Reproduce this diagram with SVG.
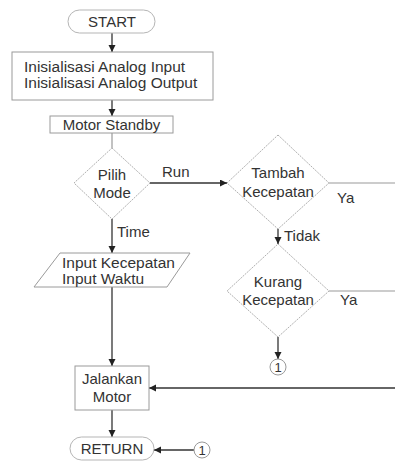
<svg xmlns="http://www.w3.org/2000/svg" width="395" height="461" viewBox="0 0 395 461">
<defs>
<marker id="arr" markerUnits="userSpaceOnUse" markerWidth="8" markerHeight="8" refX="7" refY="3.5" orient="auto">
<path d="M0,0 L7,3.5 L0,7 z" fill="#222"/>
</marker>
<style>
text{font-family:"Liberation Sans",Arial,sans-serif;font-size:15px;fill:#333}
.mid{text-anchor:middle}
.term{fill:#fff;stroke:#b5b5b5;stroke-width:1}
.box{fill:#fff;stroke:#9a9a9a;stroke-width:1}
.dia{fill:#fff;stroke:#b0b0b0;stroke-width:1;stroke-dasharray:2,1}
.con{fill:none;stroke:#333;stroke-width:1.3}
.lite{fill:none;stroke:#999;stroke-width:1.2}
.circ{fill:#fff;stroke:#999;stroke-width:1}
</style>
</defs>
<rect width="395" height="461" fill="#fff"/>
<g id="connectors">
<line class="con" x1="112" y1="33" x2="112" y2="52" marker-end="url(#arr)"/>
<line class="con" x1="112" y1="100" x2="112" y2="116" marker-end="url(#arr)"/>
<line class="lite" x1="112" y1="133" x2="112" y2="148"/>
<line class="con" x1="150" y1="183" x2="227" y2="183" marker-end="url(#arr)"/>
<line class="con" x1="112" y1="219" x2="112" y2="253" marker-end="url(#arr)"/>
<line class="con" x1="112" y1="287" x2="112" y2="366" marker-end="url(#arr)"/>
<line class="con" x1="112" y1="410" x2="112" y2="437" marker-end="url(#arr)"/>
<line class="con" x1="278" y1="229" x2="278" y2="244" marker-end="url(#arr)"/>
<line class="lite" x1="329" y1="183" x2="395" y2="183"/>
<line class="lite" x1="329" y1="291" x2="395" y2="291"/>
<line class="con" x1="278" y1="337" x2="278" y2="359" marker-end="url(#arr)"/>
<line class="con" x1="395" y1="388" x2="149" y2="388" marker-end="url(#arr)"/>
<line class="con" x1="194" y1="450" x2="154" y2="450" marker-end="url(#arr)"/>
<text x="162" y="177">Run</text>
<text x="117" y="237">Time</text>
<text x="284" y="241">Tidak</text>
<text x="337" y="203">Ya</text>
<text x="340" y="305">Ya</text>
</g>
<g id="start">
<rect class="term" x="68" y="10" width="87" height="23" rx="11.5"/>
<text class="mid" x="112" y="27">START</text>
</g>
<g id="init">
<rect class="box" x="12" y="52" width="201" height="48"/>
<text x="24" y="72" style="font-size:15.5px">Inisialisasi Analog Input</text>
<text x="24" y="88" style="font-size:15.5px">Inisialisasi Analog Output</text>
</g>
<g id="standby">
<rect class="box" x="50" y="116" width="123" height="17"/>
<text class="mid" x="111.5" y="130">Motor Standby</text>
</g>
<g id="pilih">
<polygon class="dia" points="112,148 150,183 112,219 74,183"/>
<text class="mid" x="112" y="180">Pilih</text>
<text class="mid" x="112" y="198">Mode</text>
</g>
<g id="input">
<polygon class="box" points="60,253 190,253 167,287 34,287"/>
<text x="62" y="268" style="font-size:15.5px">Input Kecepatan</text>
<text x="62" y="284" style="font-size:15.5px">Input Waktu</text>
</g>
<g id="tambah">
<polygon class="dia" points="278,135 329,183 278,229 227,183"/>
<text class="mid" x="278" y="178">Tambah</text>
<text class="mid" x="278" y="197">Kecepatan</text>
</g>
<g id="kurang">
<polygon class="dia" points="278,244 329,291 278,337 227,291"/>
<text class="mid" x="278" y="287">Kurang</text>
<text class="mid" x="278" y="305">Kecepatan</text>
</g>
<g id="conn1a">
<circle class="circ" cx="278" cy="367" r="8"/>
<text class="mid" x="278" y="372" style="font-size:13px">1</text>
</g>
<g id="jalankan">
<rect class="box" x="75" y="366" width="74" height="44"/>
<text class="mid" x="112" y="384">Jalankan</text>
<text class="mid" x="112" y="402">Motor</text>
</g>
<g id="return">
<rect class="term" x="70" y="437" width="84" height="23" rx="11.5"/>
<text class="mid" x="112" y="454">RETURN</text>
</g>
<g id="conn1b">
<circle class="circ" cx="202" cy="450" r="8"/>
<text class="mid" x="202" y="455" style="font-size:13px">1</text>
</g>
</svg>
